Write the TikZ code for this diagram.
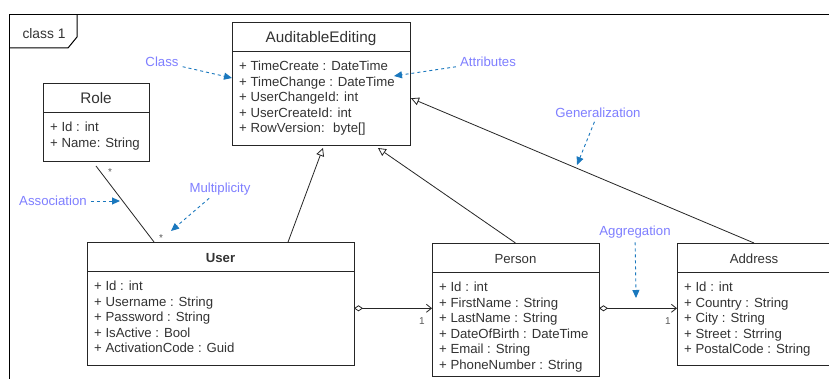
\documentclass[tikz,border=0pt]{standalone}
\usepackage{fontspec}
\setmainfont{Liberation Sans}
\usetikzlibrary{arrows.meta,calc}
\definecolor{txt}{HTML}{333333}
\definecolor{note}{HTML}{7F7FFF}
\definecolor{notearrow}{HTML}{1A78BE}
\definecolor{stroke}{HTML}{262626}
\tikzset{
  classbox/.style={draw=stroke, line width=0.9pt, anchor=north west, inner sep=0pt, outer sep=0pt},
  boxline/.style={draw=stroke, line width=0.9pt},
  titlebig/.style={font=\fontsize{15.3}{18}\selectfont, text=txt, inner sep=0pt},
  titlebold/.style={font=\fontsize{13.2}{16}\selectfont\bfseries, text=txt, inner sep=0pt},
  titlenorm/.style={font=\fontsize{13.2}{16}\selectfont, text=txt, inner sep=0pt},
  attr/.style={font=\fontsize{13.2}{16}\selectfont, text=txt, inner sep=0pt},
  mult/.style={font=\fontsize{10}{11}\selectfont, text=black!65, inner sep=0pt},
  notelbl/.style={font=\fontsize{13.2}{16}\selectfont, text=note, inner sep=1pt},
  notearr/.style={draw=notearrow, line width=0.9pt, dash pattern=on 3pt off 3pt, shorten <=3pt,
    -{Triangle[length=8pt,width=7pt,fill=notearrow]}},
  gen/.style={draw=stroke, line width=0.8pt, -{Triangle[open,length=8pt,width=8pt,fill=white]}},
  assoc/.style={draw=stroke, line width=0.8pt},
  aggr/.style={draw=stroke, line width=0.8pt, {Diamond[open,length=9pt,width=6pt,fill=white]}-{Straight Barb[length=5pt,width=8pt]}},
}
\newcommand\umlclass[8]{%
  \node[classbox, minimum width=#4pt, minimum height=#5pt] (#1) at (#2,#3) {};
  \draw[boxline] ([yshift=-29pt]#1.north west) -- ([yshift=-29pt]#1.north east);
  \node[#6, anchor=base] (#1-title) at ($(#1.north)+(0,20.3)$) {#7};
  \foreach \a [count=\i] in {#8} {
    \node[attr, anchor=base west] (#1-a\i) at ($(#1.north west)+(7,48.7+15.5*\i-15.5)$) {\a};
  }%
}
\begin{document}
\begin{tikzpicture}[x=1pt,y=-1pt]
\useasboundingbox[fill=white] (0,0) rectangle (829,379);

% frame
\draw[stroke, line width=1pt] (9,385) -- (9,15) -- (835,15);
\draw[stroke, line width=1pt] (9,48) -- (68,48) -- (77,37) -- (77,15);
\node[titlenorm, font=\fontsize{13.8}{16}\selectfont] (frame) at (44,34) {class 1};

% classes
\umlclass{ae}{232}{22}{178}{123}{titlebig}{AuditableEditing}{{+ TimeCreate : DateTime},{+ TimeChange : DateTime},{+ UserChangeId: int},{+ UserCreateId: int},{+ RowVersion: \ byte[]}}
\umlclass{role}{43}{83}{106}{78}{titlebig}{Role}{{+ Id : int},{+ Name: String}}
\umlclass{user}{87}{242}{267}{123}{titlebold}{User}{{+ Id : int},{+ Username : String},{+ Password : String},{+ IsActive : Bool},{+ ActivationCode : Guid}}
\umlclass{person}{432}{243}{167}{133}{titlenorm}{Person}{{+ Id : int},{+ FirstName : String},{+ LastName : String},{+ DateOfBirth : DateTime},{+ Email : String},{+ PhoneNumber : String}}
\umlclass{address}{677}{243}{154}{122}{titlenorm}{Address}{{+ Id : int},{+ Country : String},{+ City : String},{+ Street : Strring},{+ PostalCode : String}}

% generalizations
\draw[gen] ($(user.north west)!0.753!(user.north east)$) -- ($(ae.south west)!0.511!(ae.south east)+(0,3)$);
\draw[gen] (person.north) -- ($(ae.south west)!0.82!(ae.south east)+(0,3)$);
\draw[gen] (address.north) -- ($(ae.north east)!0.62!(ae.south east)+(1,0)$);

% association
\draw[assoc] ($(role.south)+(0,5)$) -- ($(user.north west)!0.251!(user.north east)$);
\node[mult] (m1) at (110,172) {*};
\node[mult] (m2) at (161,238) {*};

% aggregations
\coordinate (ua) at ($(user.north east)+(0,66.3)$);
\coordinate (pa) at ($(person.north east)+(0,65.3)$);
\draw[aggr] (ua) -- (ua -| person.west);
\draw[aggr] (pa) -- (pa -| address.west);
\node[mult] (m3) at (422,321) {1};
\node[mult] (m4) at (668,321) {1};

% notes
\node[notelbl] (nclass) at (162,62) {Class};
\node[notelbl] (nattr) at (488,62) {Attributes};
\node[notelbl] (ngen) at (598,113) {Generalization};
\node[notelbl] (nassoc) at (53,201) {Association};
\node[notelbl] (nmult) at (220,189) {Multiplicity};
\node[notelbl] (naggr) at (635,232) {Aggregation};

\coordinate (tclass) at (232,78);
\coordinate (tattr) at (394,76);
\coordinate (tgen) at (577,165);
\coordinate (tassoc) at (120,201);
\coordinate (tmult) at (171,231);
\coordinate (taggr) at (636,298);

\draw[notearr] (nclass) -- (tclass);
\draw[notearr] (nattr) -- (tattr);
\draw[notearr] (ngen) -- (tgen);
\draw[notearr] (nassoc) -- (tassoc);
\draw[notearr] (nmult) -- (tmult);
\draw[notearr] (naggr) -- (taggr);
\end{tikzpicture}
\end{document}
